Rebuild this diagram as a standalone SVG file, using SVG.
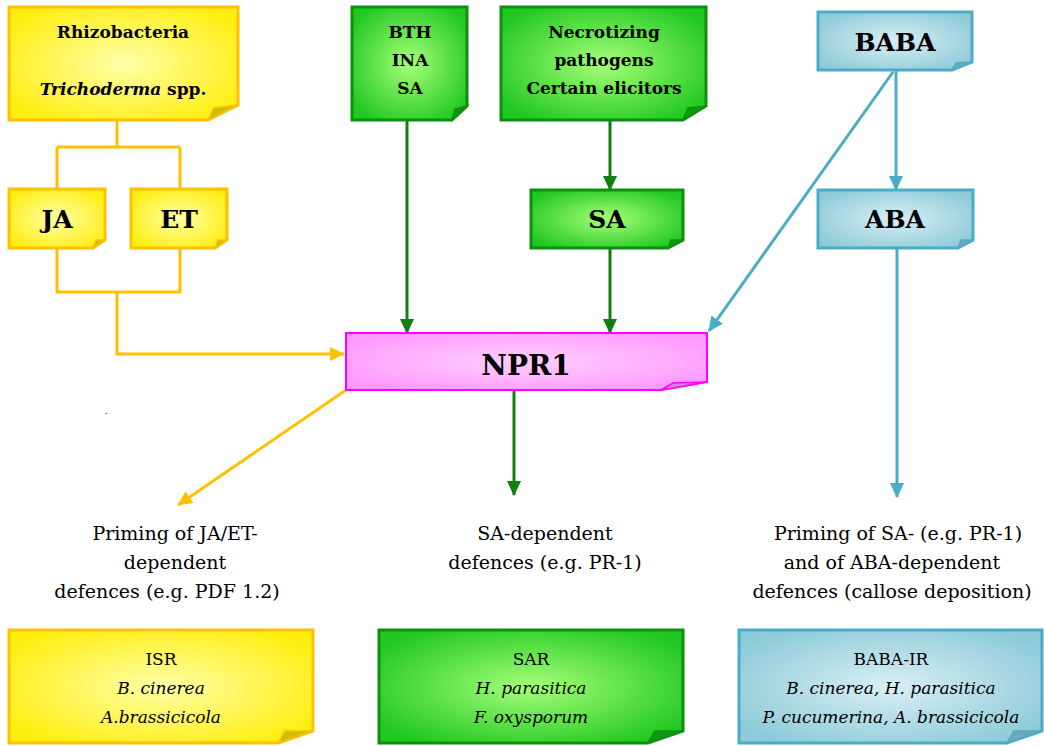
<svg xmlns="http://www.w3.org/2000/svg" width="1044" height="746" viewBox="0 0 1044 746">
<defs>
<radialGradient id="gy" cx="50%" cy="50%" r="60%"><stop offset="0" stop-color="#ffffa8"/><stop offset="1" stop-color="#ffee10"/></radialGradient>
<radialGradient id="gg" cx="50%" cy="50%" r="60%"><stop offset="0" stop-color="#a6ff78"/><stop offset="1" stop-color="#22c822"/></radialGradient>
<radialGradient id="gb" cx="50%" cy="50%" r="60%"><stop offset="0" stop-color="#d9eff5"/><stop offset="1" stop-color="#8ecbd9"/></radialGradient>
<radialGradient id="gp" cx="50%" cy="50%" r="60%"><stop offset="0" stop-color="#ffd0ff"/><stop offset="1" stop-color="#ff99ff"/></radialGradient>
<marker id="ay" markerUnits="userSpaceOnUse" markerWidth="16" markerHeight="14" refX="14" refY="7" orient="auto"><path d="M0,0 L15,7 L0,14 Z" fill="#ffc000"/></marker>
<marker id="ag" markerUnits="userSpaceOnUse" markerWidth="16" markerHeight="14" refX="14" refY="7" orient="auto"><path d="M0,0 L15,7 L0,14 Z" fill="#0f7f0f"/></marker>
<marker id="ab" markerUnits="userSpaceOnUse" markerWidth="16" markerHeight="14" refX="14" refY="7" orient="auto"><path d="M0,0 L15,7 L0,14 Z" fill="#4bacc6"/></marker>
</defs>
<style>
text{font-family:"DejaVu Serif","Liberation Serif",serif;fill:#000;text-anchor:middle}
.b{font-weight:bold}
.i{font-style:italic}
.y{fill:url(#gy);stroke:#ffc000;stroke-width:3}
.g{fill:url(#gg);stroke:#0f8f0f;stroke-width:3}
.bl{fill:url(#gb);stroke:#4bacc6;stroke-width:3}
.p{fill:url(#gp);stroke:#ff00ff;stroke-width:2}
.fy{fill:#c8c000;stroke:#ffc000;stroke-width:1.5}
.fg{fill:#0d9a0d;stroke:#0f8f0f;stroke-width:1.5}
.fb{fill:#6fa9b8;stroke:#4bacc6;stroke-width:1.5}
.fp{fill:#d08ad0;stroke:#ff00ff;stroke-width:1.5}
.ly{fill:none;stroke:#ffc000;stroke-width:3}
.lg{fill:none;stroke:#0f7f0f;stroke-width:3}
.lb{fill:none;stroke:#4bacc6;stroke-width:3}
.n{font-size:17px}
.m{font-size:19px}
.h{font-size:17px;font-weight:bold}
.L{font-size:25px;font-weight:bold}
</style>
<g id="connectors">
<path class="ly" d="M117,120 V147 M57,147 H180 M57,147 V189 M180,147 V189"/>
<path class="ly" d="M57,248 V292 H180 V248 M117,292 V354 H344" marker-end="url(#ay)"/>
<path class="ly" d="M346,390 L178,505" marker-end="url(#ay)"/>
<path class="lg" d="M407,121 V333" marker-end="url(#ag)"/>
<path class="lg" d="M610,121 V190" marker-end="url(#ag)"/>
<path class="lg" d="M610,248 V333" marker-end="url(#ag)"/>
<path class="lg" d="M514,390 V495" marker-end="url(#ag)"/>
<path class="lb" d="M896,70 V190" marker-end="url(#ab)"/>
<path class="lb" d="M893,72 L709,331" marker-end="url(#ab)"/>
<path class="lb" d="M897,248 V497" marker-end="url(#ab)"/>
</g>
<g id="rhizo">
<path class="y" d="M9,7 H238 V105 L208,120 H9 Z"/>
<path class="fy" d="M238,105 L208,120 L214,108 Z"/>
<text class="h" x="123" y="38">Rhizobacteria</text>
<text class="h" x="123" y="95"><tspan class="i">Trichoderma</tspan> spp.</text>
</g>
<g id="bth">
<path class="g" d="M352,7 H467 V106 L452,120 H352 Z"/>
<path class="fg" d="M467,106 L452,120 L455,109 Z"/>
<text class="h" x="410" y="38">BTH</text>
<text class="h" x="410" y="66">INA</text>
<text class="h" x="410" y="94">SA</text>
</g>
<g id="necro">
<path class="g" d="M501,7 H706 V106 L683,120 H501 Z"/>
<path class="fg" d="M706,106 L683,120 L688,108 Z"/>
<text class="h" x="604" y="38">Necrotizing</text>
<text class="h" x="604" y="66">pathogens</text>
<text class="h" x="604" y="94">Certain elicitors</text>
</g>
<g id="baba">
<path class="bl" d="M818,12 H972 V62 L952,70 H818 Z"/>
<path class="fb" d="M972,62 L952,70 L956,63 Z"/>
<text class="L" x="895" y="51">BABA</text>
</g>
<g id="ja">
<path class="y" d="M9,189 H105 V240 L93,248 H9 Z"/>
<path class="fy" d="M105,240 L93,248 L96,240 Z"/>
<text class="L" x="57" y="228">JA</text>
</g>
<g id="et">
<path class="y" d="M131,189 H227 V240 L215,248 H131 Z"/>
<path class="fy" d="M227,240 L215,248 L218,240 Z"/>
<text class="L" x="179" y="228">ET</text>
</g>
<g id="sa">
<path class="g" d="M531,190 H683 V240 L668,248 H531 Z"/>
<path class="fg" d="M683,240 L668,248 L671,240 Z"/>
<text class="L" x="607" y="228">SA</text>
</g>
<g id="aba">
<path class="bl" d="M818,190 H973 V240 L958,248 H818 Z"/>
<path class="fb" d="M973,240 L958,248 L961,240 Z"/>
<text class="L" x="895" y="228">ABA</text>
</g>
<g id="npr1">
<path class="p" d="M346,333 H707 V382 L661,390 H346 Z"/>
<path class="fp" d="M707,382 L661,390 L673,383 Z"/>
<text class="b" x="526" y="375" font-size="28">NPR1</text>
</g>
<text x="106" y="414" font-size="10">.</text>
<g id="label-left">
<text class="m" x="175" y="540">Priming of JA/ET-</text>
<text class="m" x="175" y="569">dependent</text>
<text class="m" x="167" y="598">defences (e.g. PDF 1.2)</text>
</g>
<g id="label-mid">
<text class="m" x="545" y="540">SA-dependent</text>
<text class="m" x="545" y="569">defences (e.g. PR-1)</text>
</g>
<g id="label-right">
<text class="m" x="898" y="540">Priming of SA- (e.g. PR-1)</text>
<text class="m" x="892" y="569">and of ABA-dependent</text>
<text class="m" x="892" y="598">defences (callose deposition)</text>
</g>
<g id="isr">
<path class="y" d="M9,630 H313 V731 L278,743 H9 Z"/>
<path class="fy" d="M313,731 L278,743 L285,731 Z"/>
<text class="n" x="161" y="665">ISR</text>
<text class="n i" x="161" y="694">B. cinerea</text>
<text class="n i" x="161" y="723">A.brassicicola</text>
</g>
<g id="sar">
<path class="g" d="M379,630 H683 V731 L648,743 H379 Z"/>
<path class="fg" d="M683,731 L648,743 L655,731 Z"/>
<text class="n" x="531" y="665">SAR</text>
<text class="n i" x="531" y="694">H. parasitica</text>
<text class="n i" x="531" y="723">F. oxysporum</text>
</g>
<g id="babair">
<path class="bl" d="M739,630 H1042 V731 L1007,743 H739 Z"/>
<path class="fb" d="M1042,731 L1007,743 L1014,731 Z"/>
<text class="n" x="891" y="665">BABA-IR</text>
<text class="n i" x="891" y="694">B. cinerea, H. parasitica</text>
<text class="n i" x="891" y="723">P. cucumerina, A. brassicicola</text>
</g>
</svg>
